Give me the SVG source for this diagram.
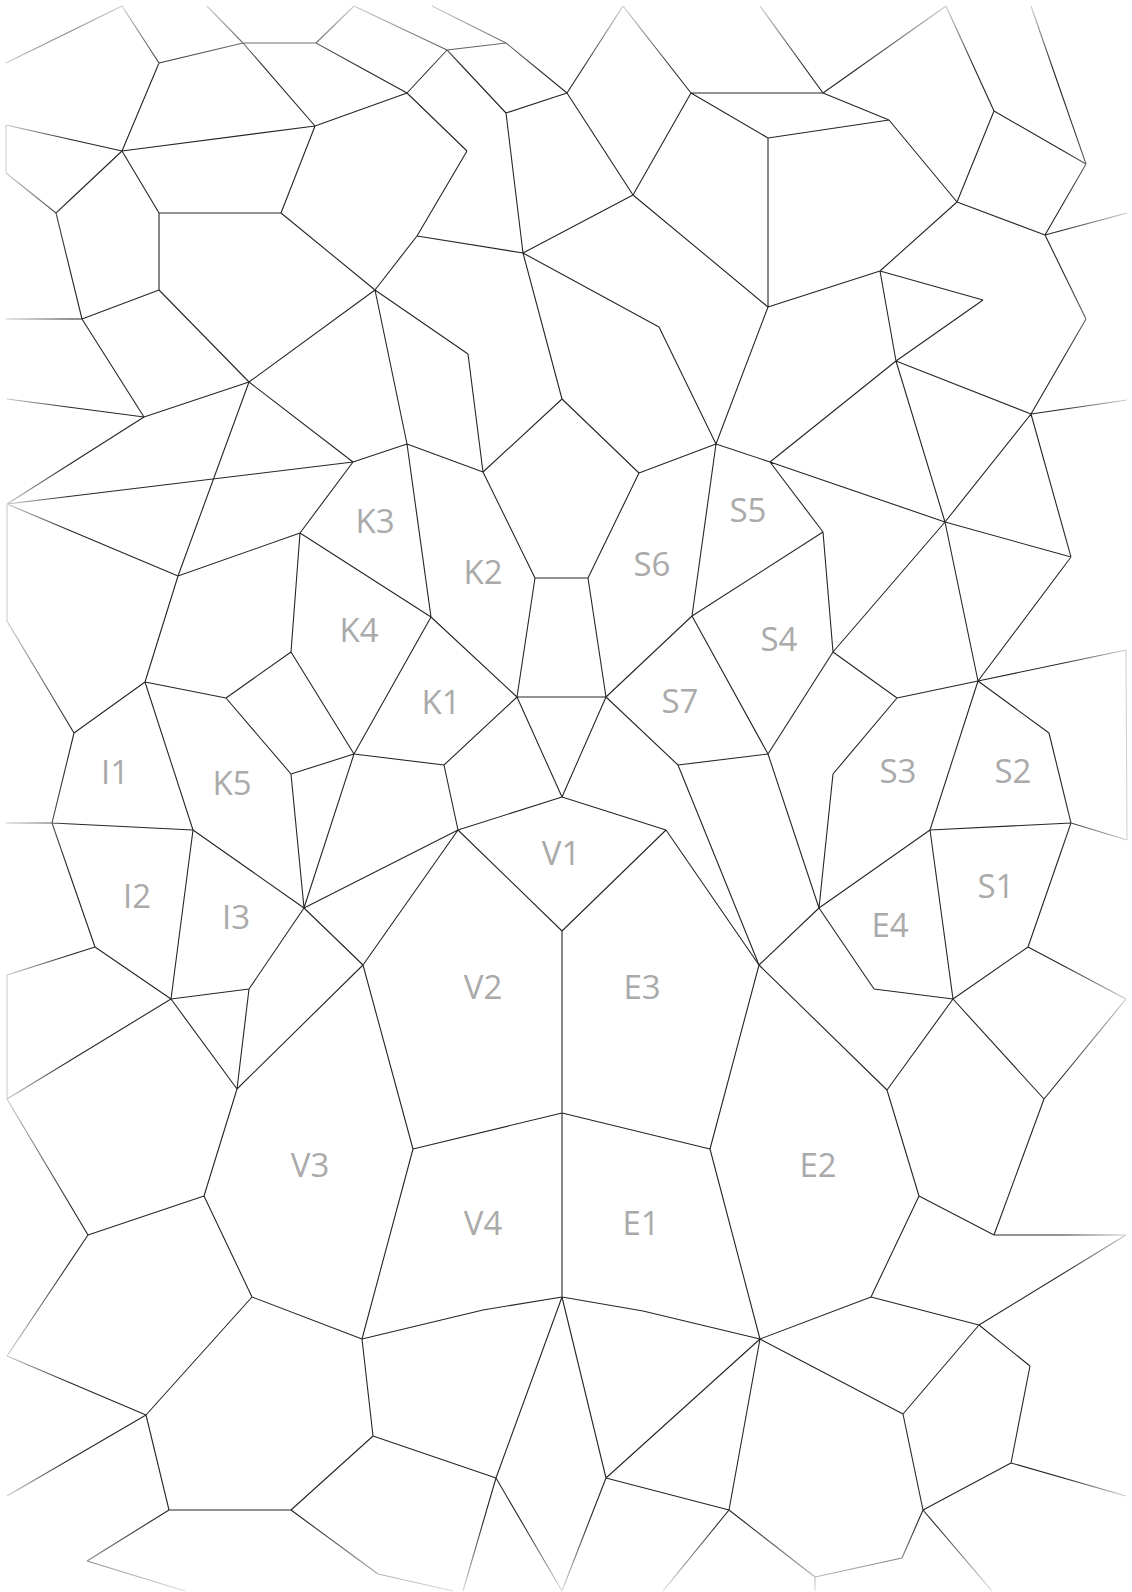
<svg xmlns="http://www.w3.org/2000/svg" width="1132" height="1592" viewBox="0 0 1132 1592">
<style>
.e{fill:none;stroke:#262626;stroke-width:1.1;stroke-linejoin:round}
.l{font-family:"Open Sans","Noto Sans",sans-serif;font-size:33px;fill:#aaaaaa;text-anchor:middle}
</style>
<defs>
<linearGradient id="fT" x1="0" y1="0" x2="0" y2="1"><stop offset="0" stop-color="#000" stop-opacity="0.85"/><stop offset="1" stop-color="#000" stop-opacity="0"/></linearGradient>
<linearGradient id="fB" x1="0" y1="1" x2="0" y2="0"><stop offset="0" stop-color="#000" stop-opacity="0.85"/><stop offset="1" stop-color="#000" stop-opacity="0"/></linearGradient>
<linearGradient id="fL" x1="0" y1="0" x2="1" y2="0"><stop offset="0" stop-color="#000" stop-opacity="0.85"/><stop offset="1" stop-color="#000" stop-opacity="0"/></linearGradient>
<linearGradient id="fR" x1="1" y1="0" x2="0" y2="0"><stop offset="0" stop-color="#000" stop-opacity="0.85"/><stop offset="1" stop-color="#000" stop-opacity="0"/></linearGradient>
<mask id="fade" maskUnits="userSpaceOnUse" x="0" y="0" width="1132" height="1592">
<rect width="1132" height="1592" fill="#fff"/>
<rect width="1132" height="70" fill="url(#fT)"/>
<rect y="1522" width="1132" height="70" fill="url(#fB)"/>
<rect width="70" height="1592" fill="url(#fL)"/>
<rect x="1062" width="70" height="1592" fill="url(#fR)"/>
</mask>
</defs>
<rect width="1132" height="1592" fill="#fff"/>
<g id="connectors" class="e" mask="url(#fade)">
<path d="M6 63L122 6M122 6L159 63M159 63L243 43M207 6L243 43M243 43L316 43M316 43L354 6M354 6L447 50M316 43L407 93M159 63L122 151M243 43L315 126M122 151L315 126M315 126L407 93M6 125L122 151M6 125L6 173M6 173L56 213M122 151L56 213M122 151L159 213M159 213L281 213M281 213L315 126M159 213L159 290M56 213L82 319M6 319L82 319M82 319L159 290M159 290L249 382M281 213L375 290M375 290L249 382M82 319L144 417M249 382L144 417M7 399L144 417M249 382L178 576M249 382L353 462M375 290L407 444M375 290L468 354M468 354L483 472M407 93L447 50M447 50L506 43M432 6L506 43M447 50L506 113M506 43L567 93M506 113L567 93M567 93L623 6M623 6L691 93M691 93L823 93M567 93L633 195M691 93L633 195M691 93L768 138M633 195L768 307M407 93L467 151M467 151L417 236M417 236L523 253M506 113L523 253M523 253L633 195M523 253L659 327M659 327L716 444M768 307L716 444M417 236L375 290M523 253L562 399"/>
<path d="M760 6L823 93M823 93L946 6M946 6L994 111M1031 6L1086 164M994 111L1086 164M823 93L889 120M768 138L889 120M889 120L957 202M994 111L957 202M957 202L1045 235M1086 164L1045 235M1045 235L1127 213M768 138L768 307M768 307L880 271M957 202L880 271M880 271L983 300M983 300L896 361M880 271L896 361M896 361L770 462M896 361L945 522M896 361L1031 414M1045 235L1086 319M1086 319L1031 414M1031 414L1127 400"/>
<path d="M716 444L770 462M770 462L945 522M945 522L1031 414M945 522L1071 557M1031 414L1071 557M1071 557L978 681M945 522L978 681M770 462L823 532M823 532L833 652M945 522L833 652M833 652L897 698M897 698L978 681M978 681L1126 650M1126 650L1127 840M1127 840L1071 823M978 681L1049 733M1049 733L1071 823M978 681L930 830M897 698L833 774M833 774L819 908M833 652L768 754M768 754L678 765M768 754L819 908M692 616L768 754M562 399L483 472M562 399L639 473M407 444L483 472M639 473L716 444M483 472L535 578M639 473L588 578M535 578L588 578M535 578L517 697M588 578L606 697M517 697L606 697M407 444L431 617M431 617L517 697M300 533L431 617M431 617L354 754M517 697L444 765M354 754L444 765M444 765L458 830M517 697L562 797M606 697L562 797M606 697L678 765M606 697L692 616M692 616L716 444M692 616L823 532M678 765L759 965M353 462L407 444"/>
<path d="M7 504L144 417M7 504L353 462M7 504L178 576M7 504L7 621M7 621L74 733M74 733L145 682M178 576L145 682M178 576L300 533M353 462L300 533M300 533L291 652M291 652L226 698M145 682L226 698M291 652L354 754M226 698L291 774M291 774L354 754M291 774L304 908M354 754L304 908M145 682L193 830M74 733L52 823M6 823L52 823M52 823L193 830M193 830L304 908M193 830L171 999M52 823L95 947M95 947L171 999M7 975L95 947M7 975L7 1099M7 1099L171 999M7 1099L88 1235M171 999L249 989M249 989L304 908M171 999L237 1089M249 989L237 1089M237 1089L363 965M304 908L363 965M237 1089L204 1196M458 830L562 797M562 797L666 830M458 830L562 931M666 830L562 931M562 931L562 1113M458 830L363 965M458 830L304 908M363 965L413 1149M413 1149L562 1113M562 1113L710 1149M666 830L759 965M759 965L710 1149M413 1149L362 1339M710 1149L760 1339"/>
<path d="M88 1235L204 1196M88 1235L7 1356M204 1196L252 1297M252 1297L362 1339M7 1356L146 1415M252 1297L146 1415M146 1415L7 1496M146 1415L169 1510M169 1510L291 1510M169 1510L87 1561M87 1561L185 1591M291 1510L373 1436M362 1339L373 1436M291 1510L378 1574M378 1574L453 1591"/>
<path d="M562 1113L562 1297M562 1297L483 1310M483 1310L362 1339M562 1297L643 1311M643 1311L760 1339M562 1297L496 1478M562 1297L606 1478M373 1436L496 1478M606 1478L760 1339M606 1478L729 1510M760 1339L729 1510M729 1510L815 1577M815 1577L815 1591M815 1577L902 1558M496 1478L463 1591M496 1478L562 1591M606 1478L562 1591M729 1510L663 1591"/>
<path d="M887 1090L919 1196M919 1196L994 1235M994 1235L1044 1099M994 1235L1126 1235M1126 1235L979 1325M919 1196L871 1297M871 1297L979 1325M871 1297L760 1339M760 1339L903 1414M979 1325L903 1414M979 1325L1030 1366M1030 1366L1011 1463M1011 1463L1126 1496M903 1414L923 1510M923 1510L1011 1463M923 1510L902 1558M923 1510L992 1591"/>
<path d="M930 830L1071 823M930 830L819 908M930 830L953 999M819 908L874 989M874 989L953 999M1071 823L1028 947M1028 947L953 999M1028 947L1126 999M1126 999L1044 1099M953 999L1044 1099M953 999L887 1090M759 965L887 1090M759 965L819 908"/>
</g>
<g id="labels">
<text id="K3" class="l" x="375" y="533">K3</text>
<text id="K2" class="l" x="483" y="584">K2</text>
<text id="K4" class="l" x="359" y="642">K4</text>
<text id="K1" class="l" x="441" y="714">K1</text>
<text id="K5" class="l" x="232" y="795">K5</text>
<text id="I1" class="l" x="115" y="784">I1</text>
<text id="I2" class="l" x="137" y="908">I2</text>
<text id="I3" class="l" x="236" y="929">I3</text>
<text id="V1" class="l" x="561" y="865">V1</text>
<text id="V2" class="l" x="483" y="999">V2</text>
<text id="E3" class="l" x="642" y="999">E3</text>
<text id="V3" class="l" x="310" y="1177">V3</text>
<text id="V4" class="l" x="483" y="1235">V4</text>
<text id="E1" class="l" x="641" y="1235">E1</text>
<text id="E2" class="l" x="818" y="1177">E2</text>
<text id="E4" class="l" x="890" y="937">E4</text>
<text id="S1" class="l" x="996" y="898">S1</text>
<text id="S2" class="l" x="1013" y="783">S2</text>
<text id="S3" class="l" x="898" y="783">S3</text>
<text id="S4" class="l" x="779" y="651">S4</text>
<text id="S5" class="l" x="748" y="522">S5</text>
<text id="S6" class="l" x="652" y="576">S6</text>
<text id="S7" class="l" x="680" y="713">S7</text>
</g>
</svg>
